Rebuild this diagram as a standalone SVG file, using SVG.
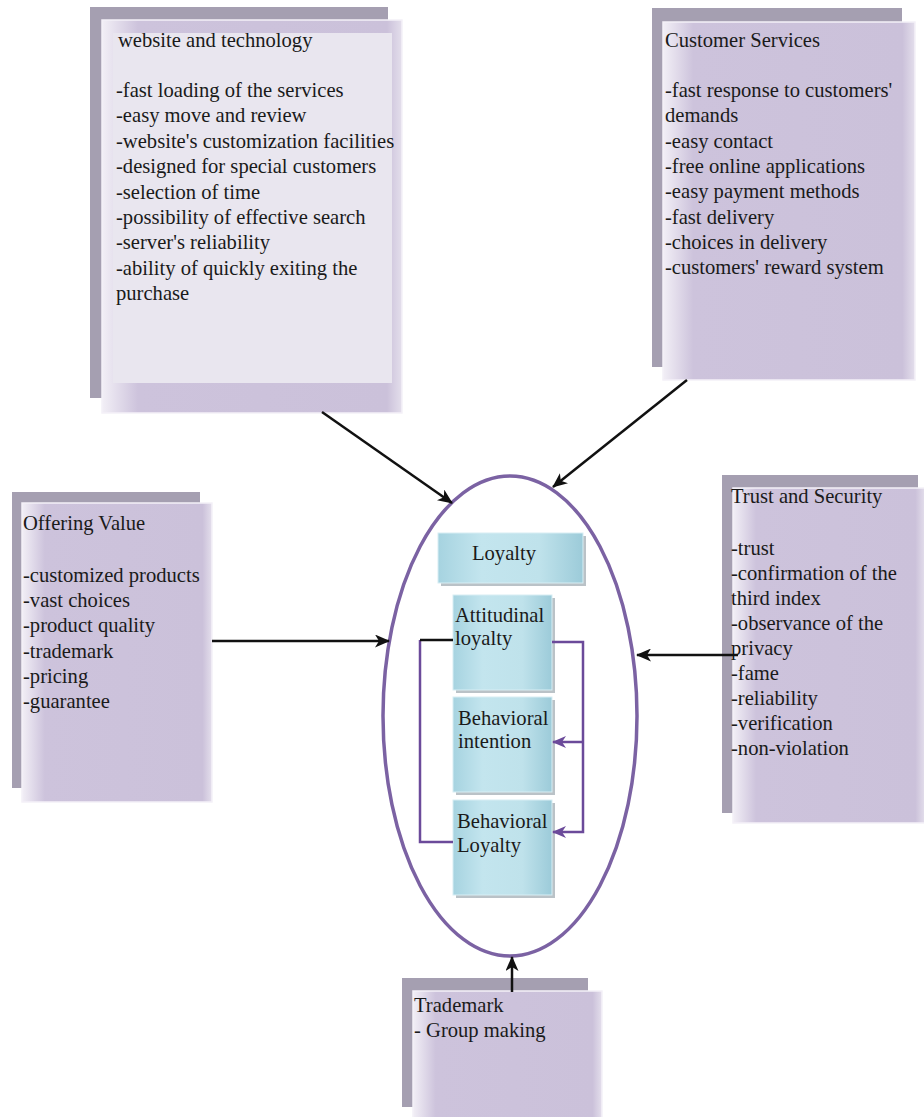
<svg xmlns="http://www.w3.org/2000/svg" width="924" height="1117" viewBox="0 0 924 1117">
<defs>
<style>
.back{fill:#a59fb1}
.front{fill:url(#lav);stroke:#f4f1f8;stroke-width:1.5}
.t{font-family:"Liberation Serif","Times New Roman",serif;font-size:20.6px;fill:#1a1a1a}
.blue{fill:url(#bl);stroke:#d8eef4;stroke-width:1}
.shadow{fill:#8c9aa2;opacity:0.6}
.arr{stroke:#111;stroke-width:2.5;fill:none;marker-end:url(#ah)}
.parr{stroke:#6b4a9a;stroke-width:2.5;fill:none}
</style>
<linearGradient id="lav" x1="0" y1="0" x2="1" y2="0">
<stop offset="0" stop-color="#f2eff6"/>
<stop offset="0.12" stop-color="#cdc3dc"/>
<stop offset="0.95" stop-color="#cbc1da"/>
<stop offset="1" stop-color="#e4dfec"/>
</linearGradient>
<linearGradient id="bl" x1="0" y1="0" x2="1" y2="0">
<stop offset="0" stop-color="#a6d3e0"/>
<stop offset="0.3" stop-color="#c3e5ee"/>
<stop offset="0.7" stop-color="#bfe2eb"/>
<stop offset="1" stop-color="#9ccbd9"/>
</linearGradient>
<marker id="ah" markerWidth="15" markerHeight="13" refX="14" refY="6.5" orient="auto" markerUnits="userSpaceOnUse">
<path d="M0,0 L15,6.5 L0,13 L4,6.5 Z" fill="#111"/>
</marker>
<marker id="ph" markerWidth="14" markerHeight="12" refX="13" refY="6" orient="auto" markerUnits="userSpaceOnUse">
<path d="M0,0 L14,6 L0,12 L4,6 Z" fill="#6b4a9a"/>
</marker>
</defs>
<rect width="924" height="1117" fill="#ffffff"/>

<g id="website">
<rect class="back" x="90" y="7" width="298" height="391"/>
<rect class="front" x="102" y="20" width="300" height="393"/>
<rect x="113" y="33" width="279" height="350" fill="#e9e6ef"/>
<text class="t" x="118" y="47">website and technology</text>
<text class="t" x="116" y="97">-fast loading of the services</text>
<text class="t" x="116" y="122.4">-easy move and review</text>
<text class="t" x="116" y="147.8">-website's customization facilities</text>
<text class="t" x="116" y="173.2">-designed for special customers</text>
<text class="t" x="116" y="198.6">-selection of time</text>
<text class="t" x="116" y="224">-possibility of effective search</text>
<text class="t" x="116" y="249.4">-server's reliability</text>
<text class="t" x="116" y="274.8">-ability of quickly exiting the</text>
<text class="t" x="116" y="300.2">purchase</text>
</g>

<g id="customer">
<rect class="back" x="652" y="8" width="250" height="359"/>
<rect class="front" x="663" y="22" width="252" height="358"/>
<text class="t" x="665" y="47">Customer Services</text>
<text class="t" x="665" y="97">-fast response to customers'</text>
<text class="t" x="665" y="122.3">demands</text>
<text class="t" x="665" y="147.6">-easy contact</text>
<text class="t" x="665" y="172.9">-free online applications</text>
<text class="t" x="665" y="198.2">-easy payment methods</text>
<text class="t" x="665" y="223.5">-fast delivery</text>
<text class="t" x="665" y="248.8">-choices in delivery</text>
<text class="t" x="665" y="274.1">-customers' reward system</text>
</g>

<g id="offering">
<rect class="back" x="12" y="492" width="188" height="296"/>
<rect class="front" x="22" y="503" width="190" height="299"/>
<text class="t" x="23" y="530">Offering Value</text>
<text class="t" x="23" y="582">-customized products</text>
<text class="t" x="23" y="607.2">-vast choices</text>
<text class="t" x="23" y="632.4">-product quality</text>
<text class="t" x="23" y="657.6">-trademark</text>
<text class="t" x="23" y="682.8">-pricing</text>
<text class="t" x="23" y="708">-guarantee</text>
</g>

<g id="trust">
<rect class="back" x="722" y="475" width="196" height="338"/>
<rect class="front" x="733" y="488" width="192" height="335"/>
<text class="t" x="731" y="503">Trust and Security</text>
<text class="t" x="731" y="555">-trust</text>
<text class="t" x="731" y="580">-confirmation of the</text>
<text class="t" x="731" y="605">third index</text>
<text class="t" x="731" y="630">-observance of the</text>
<text class="t" x="731" y="655">privacy</text>
<text class="t" x="731" y="680">-fame</text>
<text class="t" x="731" y="705">-reliability</text>
<text class="t" x="731" y="730">-verification</text>
<text class="t" x="731" y="755">-non-violation</text>
</g>

<g id="trademark">
<rect class="back" x="402" y="978" width="186" height="129"/>
<rect class="front" x="413" y="991" width="189" height="130"/>
<text class="t" x="414" y="1012">Trademark</text>
<text class="t" x="414" y="1037">- Group making</text>
</g>

<g id="loyalty-ellipse">
<ellipse cx="510" cy="716" rx="127" ry="240" fill="none" stroke="#7b62a3" stroke-width="3.5"/>
</g>

<g id="loyalty">
<rect class="shadow" x="441" y="536" width="145" height="50"/>
<rect class="blue" x="438" y="533" width="145" height="50"/>
<text class="t" x="504" y="560" text-anchor="middle">Loyalty</text>
</g>

<g id="attitudinal">
<rect class="shadow" x="456" y="598" width="99" height="95"/>
<rect class="blue" x="453" y="595" width="99" height="95"/>
<text class="t" x="455" y="622">Attitudinal</text>
<text class="t" x="455" y="645">loyalty</text>
</g>

<g id="intention">
<rect class="shadow" x="456" y="700" width="99" height="95"/>
<rect class="blue" x="453" y="697" width="99" height="95"/>
<text class="t" x="458" y="725">Behavioral</text>
<text class="t" x="458" y="748">intention</text>
</g>

<g id="behavioral-loyalty">
<rect class="shadow" x="456" y="803" width="99" height="95"/>
<rect class="blue" x="453" y="800" width="99" height="95"/>
<text class="t" x="457" y="828">Behavioral</text>
<text class="t" x="457" y="852">Loyalty</text>
</g>

<g id="connectors">
<line class="arr" x1="322" y1="412" x2="452" y2="503"/>
<line class="arr" x1="687" y1="380" x2="553" y2="487"/>
<line class="arr" x1="212" y1="641" x2="389" y2="641"/>
<line class="arr" x1="738" y1="655" x2="637" y2="655"/>
<line class="arr" x1="512" y1="992" x2="512" y2="957"/>
<path class="parr" d="M420,640 V842 H453"/>
<path d="M453,640 H420" stroke="#111" stroke-width="2.5" fill="none"/>
<path class="parr" d="M552,642 H583 V832 H553" marker-end="url(#ph)"/>
<path class="parr" d="M583,742 H553" marker-end="url(#ph)"/>
</g>
</svg>
